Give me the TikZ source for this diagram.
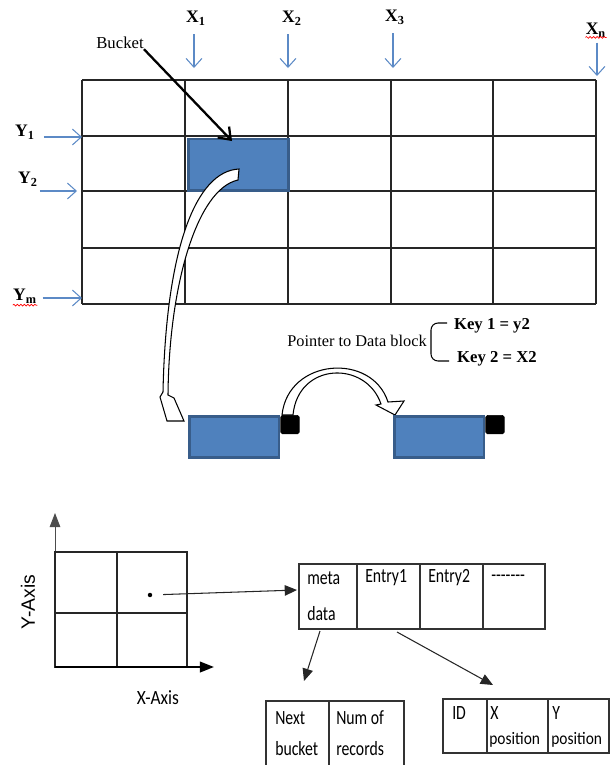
\documentclass[tikz,border=0pt]{standalone}
\usepackage{fontspec}
\setmainfont{Liberation Serif}
\newfontfamily\calfont{Carlito}
\newfontfamily\arifont{Liberation Sans}
\usetikzlibrary{arrows.meta,decorations.pathmorphing}
\definecolor{celda}{RGB}{79,129,189}
\definecolor{borde}{RGB}{56,93,138}
\definecolor{flecha}{RGB}{92,138,198}
\tikzset{
  gridline/.style={line width=0.6pt, black!85},
  bucketbox/.style={fill=celda, draw=borde, line width=1.6pt, inner sep=0pt, anchor=north west},
  ptrbox/.style={fill=black, draw=black, rounded corners=1pt, inner sep=0pt, anchor=north west,
    minimum width=10.5pt, minimum height=10.5pt},
  idxarrow/.style={flecha, line width=0.6pt, -{Straight Barb[length=5pt,width=9pt]}},
  hollow/.style={fill=white, draw=black, line width=0.6pt, line join=miter},
  lbl/.style={inner sep=0pt, font=\fontsize{10}{12}\selectfont\bfseries},
  keylbl/.style={inner sep=0pt, font=\fontsize{9.5}{11}\selectfont\bfseries},
  spell/.style={red, line width=0.4pt, decorate, decoration={snake, amplitude=0.5pt, segment length=2pt}},
  tblline/.style={line width=0.6pt, black!80},
  solidarrow/.style={line width=0.6pt, black!85, -{Triangle[length=7pt,width=6pt]}},
  cal/.style={inner sep=0pt, anchor=west, xscale=0.78, font=\calfont\fontsize{11.5}{13}\selectfont},
  calsm/.style={inner sep=0pt, anchor=west, xscale=0.88, font=\calfont\fontsize{10}{12}\selectfont},
}
\begin{document}
\begin{tikzpicture}[x=0.02cm,y=-0.02cm]
  \useasboundingbox (0,0) rectangle (610,765);
  \clip (0,0) rectangle (610,765);

  % Grid file
  \foreach \c in {82,185,288,391,493,596}
    \draw[gridline] (\c,80) -- (\c,304);
  \foreach \r in {80,136,191,248,304}
    \draw[gridline] (82,\r) -- (596,\r);
  \node[bucketbox, minimum width=57pt, minimum height=29.5pt] (bucket) at (187,137.5) {};

  % Indices
  \node[lbl] (x1) at (196,18) {X\textsubscript{1}};
  \node[lbl] (x2) at (292,18) {X\textsubscript{2}};
  \node[lbl] (x3) at (395,17) {X\textsubscript{3}};
  \node[lbl] (xn) at (596,30) {X\textsubscript{n}};
  \node[lbl] (y1) at (25,132) {Y\textsubscript{1}};
  \node[lbl] (y2) at (28,179) {Y\textsubscript{2}};
  \node[lbl] (ym) at (25,296) {Y\textsubscript{m}};
  \draw[spell] (xn.south west) -- (xn.south east);
  \draw[spell] ([yshift=-1pt]ym.south west) -- ([yshift=-1pt]ym.south east);
  \coordinate (gx1) at (194,68);
  \coordinate (gx2) at (288,68);
  \coordinate (gx3) at (393,68);
  \coordinate (gxn) at (597,76);
  \coordinate (gy1) at (82,137);
  \coordinate (gy2) at (77,191);
  \coordinate (gym) at (82,298);
  \draw[idxarrow, shorten <=5pt] (x1.south -| gx1) -- (gx1);
  \draw[idxarrow, shorten <=5pt] (x2.south -| gx2) -- (gx2);
  \draw[idxarrow, shorten <=5pt] (x3.south -| gx3) -- (gx3);
  \draw[idxarrow, shorten <=3pt] (xn.south -| gxn) -- (gxn);
  \draw[idxarrow, shorten <=5pt] (y1.east |- gy1) -- (gy1);
  \draw[idxarrow, shorten <=1pt] (y2.east |- gy2) -- (gy2);
  \draw[idxarrow, shorten <=3pt] (ym.east |- gym) -- (gym);

  % Bucket
  \node[inner sep=0pt, font=\fontsize{9.5}{11}\selectfont] (bk) at (120,43) {Bucket};
  \coordinate (bkend) at (232,141);
  \draw[line width=1.3pt, -{Straight Barb[length=6pt,width=9pt]}] (bk.south east) -- (bkend);

  % Data blocks
  \draw[hollow] (282,415) .. controls (288,358) and (372,352) .. (388,402)
    -- (404,401) -- (395,415) -- (376,405) -- (381,404)
    .. controls (366,360) and (298,362) .. (293,415) -- cycle;
  \node[bucketbox, minimum width=51pt, minimum height=23.5pt] (blk1) at (188,415) {};
  \node[ptrbox] (sq1) at (blk1.north east) {};
  \node[bucketbox, minimum width=51pt, minimum height=23.5pt] (blk2) at (393,415) {};
  \node[ptrbox] (sq2) at (blk2.north east) {};
  \draw[hollow] (239,169) .. controls (196,171) and (166,248) .. (163,392)
    -- (160,397) -- (167,421) -- (184,421) -- (174,398) -- (168,395)
    .. controls (169,285) and (197,189) .. (238,180) -- cycle;

  \node[inner sep=0pt, font=\fontsize{9.3}{11}\selectfont] (ptr) at (357,341) {Pointer to Data block};
  \draw[line width=0.6pt, rounded corners=4pt] (447,323) -- (431,323) -- (431,361) -- (449,361);
  \node[keylbl] (k1) at (492,326) {Key 1 = y2};
  \node[keylbl] (k2) at (497,359) {Key 2 = X2};

  % Ejes
  \draw[line width=0.5pt, black!70, -{Triangle[length=8pt,width=6pt]}] (55,667) -- (55,513);
  \draw[gridline] (55,552) rectangle (187,667);
  \draw[gridline] (117,552) -- (117,667);
  \draw[gridline] (55,613) -- (187,613);
  \draw[line width=1.2pt, -{Triangle[length=8pt,width=6pt]}] (55,667) -- (214,667);
  \node[inner sep=0pt, xscale=0.86, font=\calfont\fontsize{11.5}{13}\selectfont] (xax) at (158,698) {X-Axis};
  \node[inner sep=0pt, rotate=90, font=\arifont\fontsize{11}{13}\selectfont] (yax) at (28,602) {Y-Axis};
  \node[circle, fill, inner sep=0.9pt] (pt) at (150,595) {};

  % Bucket record
  \draw[tblline] (299,564) rectangle (545,629);
  \foreach \c in {357,420,483}
    \draw[tblline] (\c,564) -- (\c,629);
  \node[cal] (mt1) at (307,578) {meta};
  \node[cal] (mt2) at (307,614) {data};
  \node[cal] (en1) at (365,578) {Entry1};
  \node[cal] (en2) at (428,578) {Entry2};
  \node[cal] (dsh) at (491,578) {-------};
  \coordinate (tin) at (297,590);
  \draw[solidarrow, shorten <=6pt] (pt) -- (tin);

  \coordinate (mdout) at (320,631);
  \coordinate (mdin) at (304,681);
  \coordinate (enout) at (397,632);
  \coordinate (enin) at (493,685);
  \draw[solidarrow] (mdout) -- (mdin);
  \draw[solidarrow] (enout) -- (enin);

  % Metadata
  \draw[tblline] (266,770) |- (404,701) -- (404,770);
  \draw[tblline] (329,701) -- (329,770);
  \node[cal] (nb1) at (275,718) {Next};
  \node[cal] (nb2) at (275,749) {bucket};
  \node[cal] (nr1) at (336,718) {Num of};
  \node[cal] (nr2) at (336,749) {records};

  % Entry
  \draw[tblline] (443,699) rectangle (609,753);
  \draw[tblline] (487,699) -- (487,753);
  \draw[tblline] (548,699) -- (548,753);
  \node[cal] (id) at (452,713) {ID};
  \node[cal] (xp1) at (490,713) {X};
  \node[calsm] (xp2) at (489,740) {position};
  \node[cal] (yp1) at (552,713) {Y};
  \node[calsm] (yp2) at (551,740) {position};
\end{tikzpicture}
\end{document}
